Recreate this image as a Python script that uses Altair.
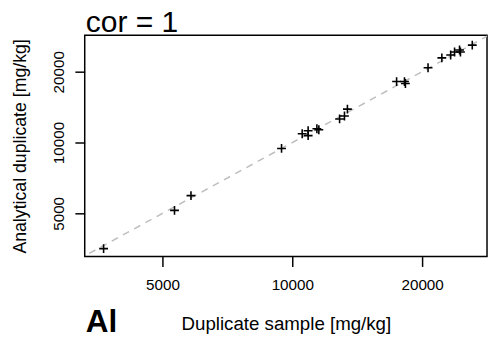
import altair as alt
import pandas as pd

dup_sample = [3650, 5330, 5820, 9440, 10540, 10880, 10880, 11400, 11520, 12870, 13210,
              13420, 17450, 18200, 18290, 20640, 22220, 23290, 23780, 24420, 24540, 26140]
analytical = [3540, 5150, 5950, 9440, 10900, 11230, 10700, 11440, 11330, 12600, 12970,
              13870, 18160, 18160, 17820, 20790, 22890, 23550, 24250, 24720, 24250, 25940]
ticks = [5000, 10000, 20000]
x_domain = [3300, 28280]
y_domain = [3275, 28560]
line_ends = [3000, 32000]

FONT = "Liberation Sans"

pts = pd.DataFrame({"x": dup_sample, "y": analytical})
ref = pd.DataFrame({"x": line_ends, "y": line_ends})

xs = alt.Scale(type="log", domain=x_domain, nice=False, zero=False)
ys = alt.Scale(type="log", domain=y_domain, nice=False, zero=False)

xaxis = alt.Axis(values=ticks, grid=False, domain=False, tickSize=10, tickWidth=1.5,
                 tickColor="black", labelFont=FONT, labelFontSize=15.5, labelColor="black",
                 labelPadding=11, labelFlush=False, format="d",
                 title="Duplicate sample [mg/kg]", titleFont=FONT, titleFontSize=19,
                 titleFontWeight="normal", titleColor="black", titleY=74,
                 titleBaseline="alphabetic")
yaxis = alt.Axis(values=ticks, grid=False, domain=False, tickSize=10, tickWidth=1.5,
                 tickColor="black", labelFont=FONT, labelFontSize=15.5, labelColor="black",
                 labelAngle=270, labelAlign="center", labelBaseline="bottom",
                 labelPadding=9, labelFlush=False, format="d",
                 title="Analytical duplicate [mg/kg]", titleFont=FONT, titleFontSize=18,
                 titleFontWeight="normal", titleColor="black", titleX=-65,
                 titleBaseline="middle", titleAngle=270)

line = alt.Chart(ref).mark_line(color="#bebebe", strokeDash=[7, 6], strokeWidth=1.5,
                                clip=True).encode(
    x=alt.X("x:Q", scale=xs, axis=xaxis),
    y=alt.Y("y:Q", scale=ys, axis=yaxis),
)

points = alt.Chart(pts).mark_point(shape="M-1,0L1,0M0,-1L0,1", size=81, filled=False,
                                   color="black", strokeWidth=1.6, opacity=1).encode(
    x=alt.X("x:Q", scale=xs),
    y=alt.Y("y:Q", scale=ys),
)

label = alt.Chart(pd.DataFrame({"t": ["Al"]})).mark_text(
    font=FONT, fontSize=32, fontWeight="bold", align="left", baseline="alphabetic",
    color="black").encode(text="t:N", x=alt.value(1), y=alt.value(302))

title = alt.Chart(pd.DataFrame({"t": ["cor = 1"]})).mark_text(
    font=FONT, fontSize=30.5, fontWeight="normal", align="left", baseline="alphabetic",
    color="black").encode(text="t:N", x=alt.value(1), y=alt.value(-3))

chart = alt.layer(line, points, label, title).properties(
    width=409, height=225,
    autosize=alt.AutoSizeParams(type="none"),
    padding={"left": 78, "top": 25, "right": 1, "bottom": 80},
).configure(background="white").configure_view(stroke="black", strokeWidth=1.5)

chart.save("out.html", embed_options={"renderer": "svg", "actions": False})
